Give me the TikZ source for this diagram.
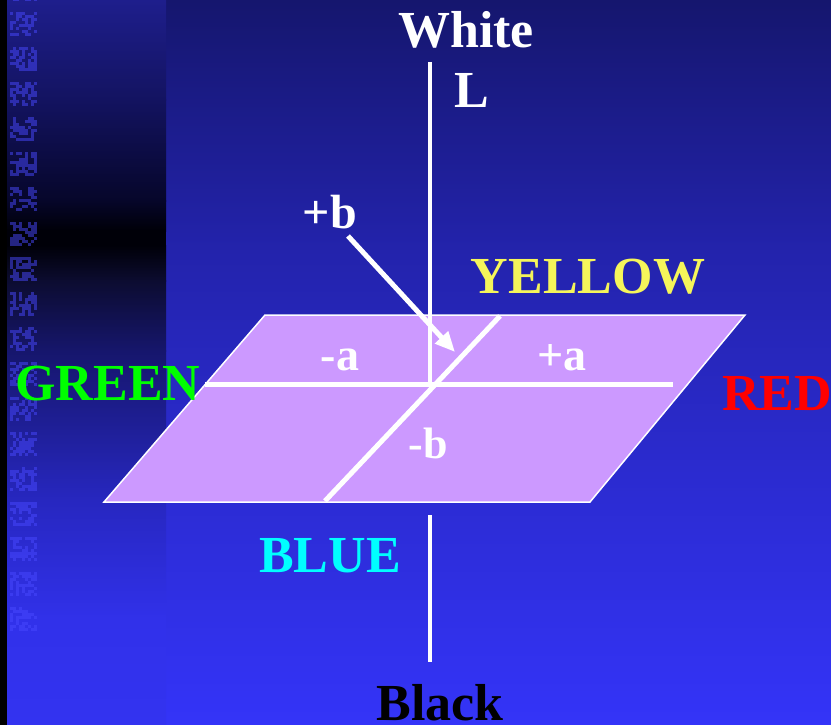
\documentclass[tikz,border=0pt]{standalone}
\usepackage{fontspec}
\setmainfont{Liberation Serif}
\usetikzlibrary{arrows.meta}
\definecolor{plane}{HTML}{CC99FF}
\definecolor{mA}{HTML}{15166E}
\definecolor{mB}{HTML}{2323AC}
\definecolor{mC}{HTML}{3434F8}
\definecolor{s1}{HTML}{1E1E8C}
\definecolor{s2}{HTML}{131360}
\definecolor{s3}{HTML}{06062A}
\definecolor{s4}{HTML}{000008}
\definecolor{s5}{HTML}{0C0C30}
\definecolor{s6}{HTML}{16166C}
\definecolor{s7}{HTML}{2727C0}
\definecolor{s8}{HTML}{3131EA}
\definecolor{s9}{HTML}{3333F0}
\definecolor{tex}{HTML}{4848FF}
\definecolor{yel}{HTML}{F5F55A}
\definecolor{grn}{HTML}{00FF00}
\definecolor{cyn}{HTML}{00FFFF}
\definecolor{rd}{HTML}{FF0000}
\begin{document}
\begin{tikzpicture}[x=1pt,y=-1pt,
  lab/.style={font=\bfseries\fontsize{52}{52}\selectfont, inner sep=0pt, anchor=base},
  small/.style={font=\bfseries\fontsize{46}{46}\selectfont, inner sep=0pt, anchor=base, white},
  axisline/.style={white, line width=5pt}]
\useasboundingbox (0,0) rectangle (831,725);
% main background
\shade[top color=mA, bottom color=mB] (165,0) rectangle (831,251);
\shade[top color=mB, bottom color=mC] (165,250) rectangle (831,725);
% left strip
\shade[top color=s1, bottom color=s2] (7,0) rectangle (166,101);
\shade[top color=s2, bottom color=s3] (7,100) rectangle (166,201);
\shade[top color=s3, bottom color=s4] (7,200) rectangle (166,231);
\fill[s4] (7,230) rectangle (166,246);
\shade[top color=s4, bottom color=s5] (7,245) rectangle (166,281);
\shade[top color=s5, bottom color=s6] (7,280) rectangle (166,351);
\shade[top color=s6, bottom color=s7] (7,350) rectangle (166,501);
\shade[top color=s7, bottom color=s8] (7,500) rectangle (166,621);
\shade[top color=s8, bottom color=s9] (7,620) rectangle (166,725);
\fill[black] (0,0) rectangle (7,725);
% texture
\pgfmathsetseed{11}
\foreach \r in {-1,...,17}{
  \foreach \i in {0,...,8}{
    \foreach \j in {0,...,7}{
      \pgfmathtruncatemacro\on{rnd>0.42}
      \ifnum\on=1
        \fill[tex, opacity=0.5] ({10+3*\i},{12+35*\r+3*\j}) rectangle ++(3,3);
      \fi
    }
  }
}
% plane
\coordinate (p1) at (265,315);
\coordinate (p2) at (745,315);
\coordinate (p3) at (590,502);
\coordinate (p4) at (104,502);
\filldraw[fill=plane, draw=white, line width=1.5pt] (p1) -- (p2) -- (p3) -- (p4) -- cycle;
% axes
\coordinate (O) at (430,384);
\coordinate (aL) at (205,384);
\coordinate (aR) at (673,384);
\coordinate (bT) at (500,316);
\coordinate (bB) at (325,501);
\coordinate (Ltop) at (430,62);
\coordinate (Lb1) at (430,515);
\coordinate (Lb2) at (430,662);
\coordinate (bs) at (348,236);
\coordinate (bt) at (455,352);
\draw[axisline] (aL) -- (aR);
\draw[axisline] (bT) -- (bB);
\draw[white, line width=4.5pt] (Ltop) -- (O);
\draw[white, line width=4.5pt] (Lb1) -- (Lb2);
\draw[white, line width=5pt, -{Triangle[length=20pt,width=17pt]}] (bs) -- (bt);
% labels
\node[lab, white] (white) at (466,48) {White};
\node[lab, white] (L) at (472,108) {L};
\node[lab, white, font=\bfseries\fontsize{48}{48}\selectfont] (pb) at (330,228) {+b};
\node[lab, text=yel] (yellow) at (588,293) {YELLOW};
\node[lab, text=grn] (green) at (108,400) {GREEN};
\node[lab, text=rd, anchor=base west] (redl) at (722,410) {RED};
\node[small] (ma) at (340,370) {-a};
\node[small] (pa) at (562,370) {+a};
\node[small, font=\bfseries\fontsize{44}{44}\selectfont] (mb) at (428,458) {-b};
\node[lab, text=cyn] (blue) at (330,572) {BLUE};
\node[lab, text=black] (black) at (440,720) {Black};
\end{tikzpicture}
\end{document}
